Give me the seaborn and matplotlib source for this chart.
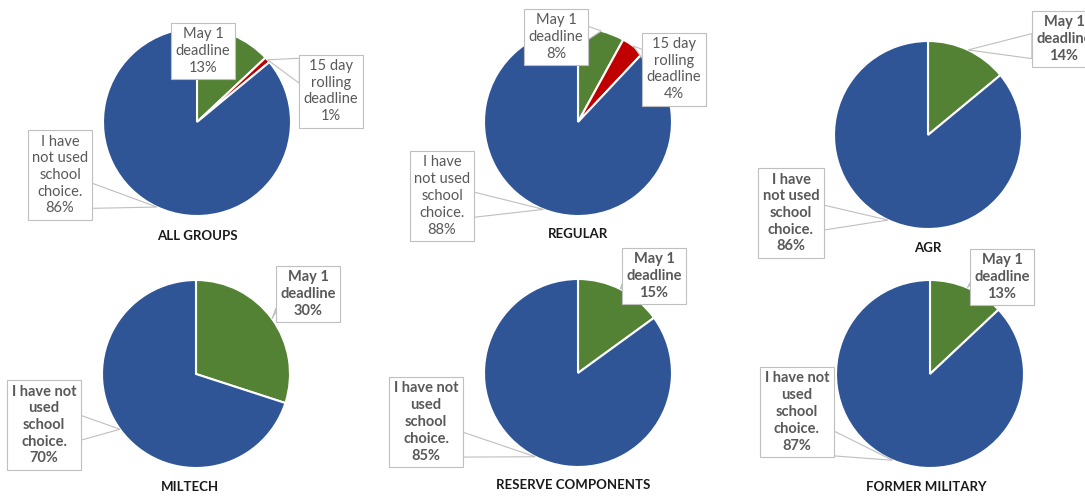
import matplotlib.pyplot as plt
import numpy as np
import seaborn as sns
from matplotlib.patches import Polygon

# values (percent)
groups = ['ALL GROUPS', 'REGULAR', 'AGR', 'MILTECH', 'RESERVE COMPONENTS', 'FORMER MILITARY']
may1 = [13, 8, 14, 30, 15, 13]
rolling15 = [1, 4, 0, 0, 0, 0]
not_used = [86, 88, 86, 70, 85, 87]

may1_text = 'May 1\ndeadline'
rolling_text = '15 day\nrolling\ndeadline'
not_used_text = ['I have\nnot used\nschool\nchoice.', 'I have\nnot used\nschool\nchoice.',
                 'I have\nnot used\nschool\nchoice.', 'I have not\nused\nschool\nchoice.',
                 'I have not\nused\nschool\nchoice.', 'I have not\nused\nschool\nchoice.']

colors = ['#548235', '#C00000', '#2F5597']

# layout, in picture pixels (y measured from the top)
W, H = 1085, 497
centers = [(197, 122), (578, 122), (928, 135), (196, 374), (578, 373), (930, 374)]
radius = 94
title_pos = [(197, 236), (578, 234), (928, 248), (190, 487), (573, 485), (926, 487)]
may1_box = [(203, 51), (556, 37), (1064, 39), (308, 294), (654, 276), (1002, 277)]
may1_pointer = [False, True, True, True, True, True]
rolling_box = [(331, 91), (674, 69), None, None, None, None]
not_used_box = [(60, 175), (442, 196), (791, 213), (44, 425), (426, 422), (797, 412)]
bold_labels = [False, False, True, True, True, True]

sns.set_theme(style='white')
plt.rcParams['font.family'] = ['Lato', 'DejaVu Sans']

fig = plt.figure(figsize=(W / 100, H / 100), dpi=100)
ax = fig.add_axes([0, 0, 1, 1])

callouts = []


def callout(text, anchor, pos, weight, pointer=True):
    t = ax.text(pos[0], H - pos[1], text, ha='center', va='center', fontsize=10.5,
                color='#595959', fontweight=weight, linespacing=1.25, zorder=4,
                bbox=dict(boxstyle='square,pad=0.3', fc='white', ec='#BFBFBF', lw=0.8))
    if pointer:
        callouts.append((t, anchor))


for i, g in enumerate(groups):
    vals = [may1[i], rolling15[i], not_used[i]]
    keep = [k for k in range(3) if vals[k] > 0]
    cx, cy = centers[i][0], H - centers[i][1]
    wedges, _ = ax.pie([vals[k] for k in keep], colors=[colors[k] for k in keep],
                       startangle=90, counterclock=False, center=(cx, cy), radius=radius,
                       wedgeprops=dict(edgecolor='white', linewidth=1.5), frame=True)
    weight = 'bold' if bold_labels[i] else 'normal'
    for w, k in zip(wedges, keep):
        mid = np.deg2rad((w.theta1 + w.theta2) / 2)
        anchor = (cx + radius * np.cos(mid), cy + radius * np.sin(mid))
        if k == 0:
            callout(f'{may1_text}\n{vals[k]}%', anchor, may1_box[i], weight, may1_pointer[i])
        elif k == 1:
            callout(f'{rolling_text}\n{vals[k]}%', anchor, rolling_box[i], weight)
        else:
            callout(f'{not_used_text[i]}\n{vals[k]}%', anchor, not_used_box[i], weight)
    ax.text(title_pos[i][0], H - title_pos[i][1], g, ha='center', va='center',
            fontsize=9.5, fontweight='bold', color='#1a1a1a')

ax.set_xlim(0, W)
ax.set_ylim(0, H)
ax.set_aspect('equal')
ax.axis('off')

# callout pointers: a triangle from the side of the label box to the slice edge
fig.canvas.draw()
inv = ax.transData.inverted()
for t, (axx, ayy) in callouts:
    ext = t.get_bbox_patch().get_window_extent()
    (x0, y0), (x1, y1) = inv.transform([[ext.x0, ext.y0], [ext.x1, ext.y1]])
    bx, by = (x0 + x1) / 2, (y0 + y1) / 2
    if axx > x1 or axx < x0:
        sx = x1 if axx > x1 else x0
        half = min(12.5, 0.5 * abs(axx - sx))
        c = np.clip(0.65 * ayy + 0.35 * by, y0 + half, y1 - half)
        base = [(sx, c - half), (sx, c + half)]
    else:
        sy = y1 if ayy > y1 else y0
        half = min(12.5, 0.5 * abs(ayy - sy))
        c = np.clip(0.65 * axx + 0.35 * bx, x0 + half, x1 - half)
        base = [(c - half, sy), (c + half, sy)]
    ax.add_patch(Polygon([base[0], (axx, ayy), base[1]], closed=True, fc='white',
                         ec='#BFBFBF', lw=0.8, zorder=3.5))

fig.savefig('out.png', dpi=100, facecolor='white')
